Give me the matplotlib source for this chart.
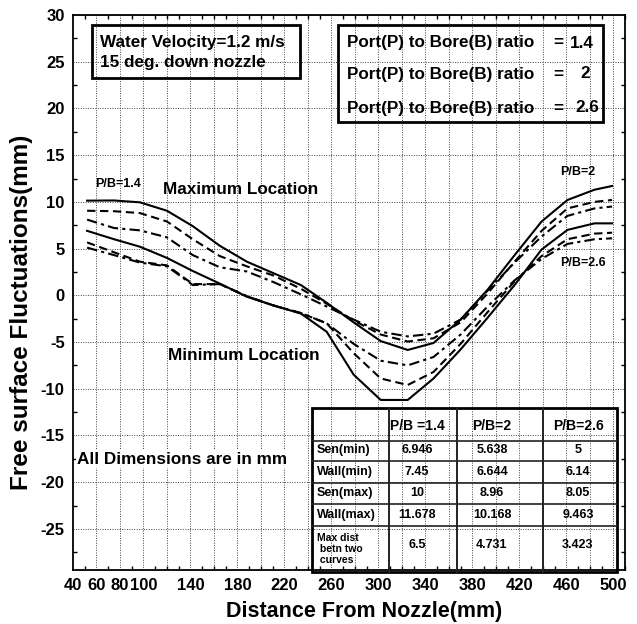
import matplotlib
matplotlib.use("Agg")
import matplotlib.pyplot as plt
from matplotlib.patches import Rectangle
from matplotlib.ticker import FixedLocator, MultipleLocator

plt.rcParams['font.family'] = ['Liberation Sans', 'DejaVu Sans']
plt.rcParams['font.weight'] = 'bold'
plt.rcParams['axes.unicode_minus'] = False

# ---------------- data ----------------
x_pos = [52, 75, 97, 120, 142, 165, 188, 211, 234, 256, 279, 302, 325,
         347, 370, 393, 416, 439, 461, 484, 499]

max_14 = [10.13, 10.15, 9.95, 9.05, 7.4, 5.3, 3.6, 2.35, 1.1, -0.8, -2.9, -4.9, -5.85,
          -5.1, -2.6, 0.6, 4.3, 7.9, 10.2, 11.3, 11.7]
max_20 = [9.05, 9.0, 8.8, 7.9, 6.0, 4.2, 3.1, 2.1, 0.7, -0.9, -2.7, -4.2, -4.95,
          -4.6, -2.9, 0.2, 3.6, 6.9, 9.3, 10.0, 10.2]
max_26 = [8.1, 7.2, 6.95, 6.2, 4.3, 3.0, 2.55, 1.4, 0.1, -1.2, -2.6, -3.9, -4.4,
          -4.1, -2.6, 0.5, 3.5, 6.3, 8.5, 9.3, 9.5]
min_14 = [6.9, 6.0, 5.2, 4.0, 2.6, 1.25, -0.15, -1.1, -1.95, -3.9, -8.5, -11.2, -11.2,
          -8.9, -5.8, -2.4, 1.1, 4.9, 7.0, 7.7, 7.7]
min_20 = [5.66, 4.6, 3.6, 3.2, 1.2, 1.2, -0.1, -1.1, -1.9, -3.0, -6.2, -8.9, -9.6,
          -8.2, -5.2, -1.8, 1.5, 4.2, 6.0, 6.6, 6.7]
min_26 = [5.1, 4.3, 3.5, 3.1, 1.1, 1.2, -0.1, -1.1, -1.9, -3.0, -5.2, -7.0, -7.5,
          -6.6, -4.2, -1.2, 1.6, 3.9, 5.5, 6.0, 6.1]

x_ticks = [40, 60, 80, 100, 140, 180, 220, 260, 300, 340, 380, 420, 460, 500]
y_ticks = [30, 25, 20, 15, 10, 5, 0, -5, -10, -15, -20, -25]

legend_ratios = ['1.4', '2', '2.6']
table_cols = ['P/B =1.4', 'P/B=2', 'P/B=2.6']
table_rows = ['Sen(min)', 'Wall(min)', 'Sen(max)', 'Wall(max)', 'Max dist\n betn two\n curves']
table_vals = [['6.946', '5.638', '5'],
              ['7.45', '6.644', '6.14'],
              ['10', '8.96', '8.05'],
              ['11.678', '10.168', '9.463'],
              ['6.5', '4.731', '3.423']]

# ---------------- figure ----------------
W, H = 637, 624
fig = plt.figure(figsize=(W / 100, H / 100), dpi=100)
ax = fig.add_axes([73 / W, 1 - 570 / H, (625 - 73) / W, (570 - 15) / H])
ax.set_xlim(40, 510)
ax.set_ylim(-29.4, 30)

solid = '-'
dashed = (0, (4, 2.2))
dashdot = (0, (5, 2, 1.5, 2))
lw = 1.5
ax.plot(x_pos, max_14, color='black', lw=lw, ls=solid)
ax.plot(x_pos, max_20, color='black', lw=lw, ls=dashed)
ax.plot(x_pos, max_26, color='black', lw=lw, ls=dashdot)
ax.plot(x_pos, min_14, color='black', lw=lw, ls=solid)
ax.plot(x_pos, min_20, color='black', lw=lw, ls=dashed)
ax.plot(x_pos, min_26, color='black', lw=lw, ls=dashdot)

ax.xaxis.set_major_locator(FixedLocator(x_ticks))
ax.set_xticklabels([str(v) for v in x_ticks])
ax.xaxis.set_minor_locator(MultipleLocator(10))
ax.yaxis.set_major_locator(FixedLocator(y_ticks))
ax.yaxis.set_minor_locator(MultipleLocator(2.5))
ax.tick_params(axis='both', which='both', direction='in', top=True, right=True,
               labelsize=12, width=1)
ax.tick_params(axis='both', which='major', length=0)
ax.tick_params(axis='x', which='major', pad=6)
ax.tick_params(axis='y', which='major', pad=6)
ax.tick_params(axis='both', which='minor', length=3)
for lab in ax.get_xticklabels() + ax.get_yticklabels():
    lab.set_fontweight('bold')

# grid: vertical every 20 mm, horizontal every 5
for gx in range(60, 510, 20):
    ax.axvline(gx, color='#444444', lw=0.7, ls=(0, (1, 1.5)), zorder=0)
for gy in y_ticks:
    ax.axhline(gy, color='#444444', lw=0.7, ls=(0, (1, 1.5)), zorder=0)

for s in ax.spines.values():
    s.set_linewidth(1.3)

# ---------------- overlay (pixel coordinates) ----------------
ov = fig.add_axes([0, 0, 1, 1], zorder=5)
ov.set_xlim(0, W)
ov.set_ylim(H, 0)
ov.axis('off')
ov.patch.set_alpha(0)

ov.text(364, 622, 'Distance From Nozzle(mm)', fontsize=15.5, fontweight='bold',
        ha='center', va='bottom')
ov.text(22, 312, 'Free surface Fluctuations(mm)', fontsize=17.5, fontweight='bold',
        ha='center', va='center', rotation=90)

fs_main = 12.3
ov.add_patch(Rectangle((92, 25), 208, 53, fill=False, lw=2, ec='black'))
ov.text(100, 42, 'Water Velocity=1.2 m/s', fontsize=fs_main, fontweight='bold', va='center')
ov.text(100, 63, '15 deg. down nozzle', fontsize=fs_main, fontweight='bold', va='center')

ov.add_patch(Rectangle((338, 25), 265, 97, fill=False, lw=2, ec='black'))
leg_y = [43, 74, 108]
leg_val_x = [582, 585, 587]
for ly, vx, r in zip(leg_y, leg_val_x, legend_ratios):
    ov.text(347, ly, 'Port(P) to Bore(B) ratio', fontsize=fs_main, fontweight='bold', va='center')
    ov.text(558, ly, '=', fontsize=fs_main, fontweight='bold', va='center', ha='center')
    ov.text(vx, ly, r, fontsize=fs_main, fontweight='bold', va='center', ha='center')

ov.text(95, 184, 'P/B=1.4', fontsize=9, fontweight='bold', va='center')
ov.text(163, 189, 'Maximum Location', fontsize=fs_main, fontweight='bold', va='center')
ov.text(168, 356, 'Minimum Location', fontsize=fs_main, fontweight='bold', va='center')
ov.text(560, 172, 'P/B=2', fontsize=9, fontweight='bold', va='center')
ov.text(560, 263, 'P/B=2.6', fontsize=9, fontweight='bold', va='center')
ov.text(77, 459, 'All Dimensions are in mm', fontsize=fs_main, fontweight='bold', va='center',
        bbox=dict(fc='white', ec='none', pad=1))

# table
tx = [312, 389, 457, 543, 617]
ty = [408, 441, 461, 483, 504, 526, 572]
col_cx = [417, 492, 578]
head_y = 426
row_y = [450, 472, 493, 515, 545]
ov.add_patch(Rectangle((tx[0], ty[0]), tx[-1] - tx[0], ty[-1] - ty[0], fill=False, lw=2, ec='black'))
for yy in ty[1:-1]:
    ov.plot([tx[0], tx[-1]], [yy, yy], color='#222222', lw=1.2)
for xx in tx[1:-1]:
    ov.plot([xx, xx], [ty[0], ty[-1]], color='#222222', lw=1.4)
for cx, c in zip(col_cx, table_cols):
    ov.text(cx, head_y, c, fontsize=10, fontweight='bold', ha='center', va='center')
for i, r in enumerate(table_rows):
    cy = row_y[i] if i < 4 else (ty[5] + ty[6]) / 2
    fs = 7.5 if i == 4 else 9
    ov.text(317, cy, r, fontsize=fs, fontweight='bold', ha='left', va='center',
            linespacing=1.15)
    for cx, v in zip(col_cx, table_vals[i]):
        ov.text(cx, row_y[i], v, fontsize=9, fontweight='bold', ha='center', va='center')

fig.savefig('out.png', dpi=100)
